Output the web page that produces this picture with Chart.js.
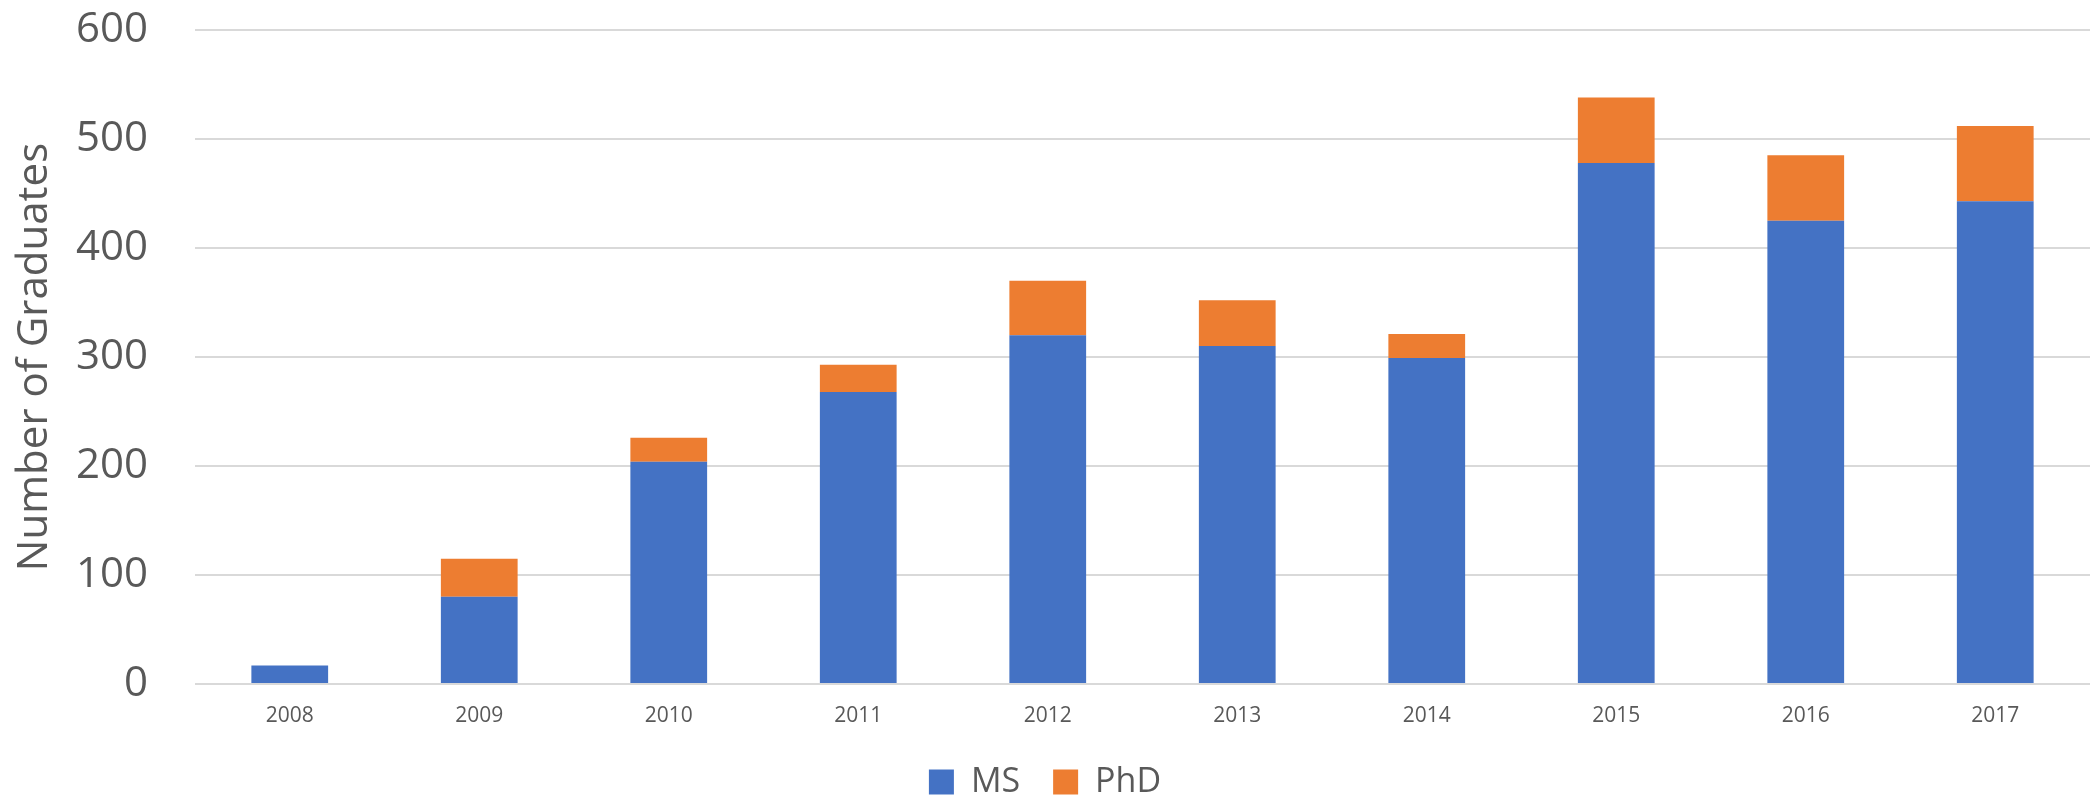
<!DOCTYPE html>
<html>
<head>
<meta charset="utf-8">
<script src="https://cdn.jsdelivr.net/npm/chart.js@4.4.0/dist/chart.umd.min.js"></script>
<style>
  html, body { margin: 0; padding: 0; background: #fff; }
  #wrap { width: 2090px; height: 796px; }
</style>
</head>
<body>
<div id="wrap"><canvas id="gradChart" width="2090" height="796"></canvas></div>
<script>
const years = ['2008','2009','2010','2011','2012','2013','2014','2015','2016','2017'];
const msGrads = [17, 80, 204, 268, 320, 310, 299, 478, 425, 443];
const phdGrads = [0, 35, 22, 25, 50, 42, 22, 60, 60, 69];
const yTicks = [0, 100, 200, 300, 400, 500, 600];

const grey = '#595959';

const ctx = document.getElementById('gradChart').getContext('2d');
new Chart(ctx, {
  type: 'bar',
  data: {
    labels: years,
    datasets: [
      { label: 'MS', data: msGrads, backgroundColor: '#4472C4', categoryPercentage: 1, barPercentage: 0.405 },
      { label: 'PhD', data: phdGrads, backgroundColor: '#ED7D31', categoryPercentage: 1, barPercentage: 0.405 }
    ]
  },
  options: {
    responsive: false,
    animation: false,
    layout: { padding: { top: 30, right: 0, left: 0, bottom: -13 } },
    plugins: {
      tooltip: { enabled: false },
      legend: {
        position: 'bottom',
        labels: {
          color: grey,
          font: { family: 'Open Sans', size: 34 },
          boxWidth: 25,
          boxHeight: 25,
          padding: 33
        }
      }
    },
    scales: {
      x: {
        stacked: true,
        afterFit: s => { s.height = 48; },
        grid: { display: false, drawTicks: false },
        border: { display: false },
        ticks: { color: grey, font: { family: 'Open Sans', size: 21 }, padding: 19, maxRotation: 0 }
      },
      y: {
        stacked: true,
        min: yTicks[0],
        max: yTicks[yTicks.length - 1],
        afterBuildTicks: s => { s.ticks = yTicks.map(v => ({ value: v })); },
        afterFit: s => { s.width = 195; },
        // invisible tick marks give the gap between labels and plot
        grid: { color: '#d9d9d9', lineWidth: 2, drawTicks: true, tickLength: 47, tickColor: 'rgba(0,0,0,0)' },
        border: { display: false },
        ticks: { color: grey, font: { family: 'Open Sans', size: 42 }, padding: 0 },
        title: {
          display: true,
          text: 'Number of Graduates',
          color: grey,
          font: { family: 'Open Sans', size: 42 },
          padding: { top: 10, bottom: 0 }
        }
      }
    }
  }
});
</script>
</body>
</html>
